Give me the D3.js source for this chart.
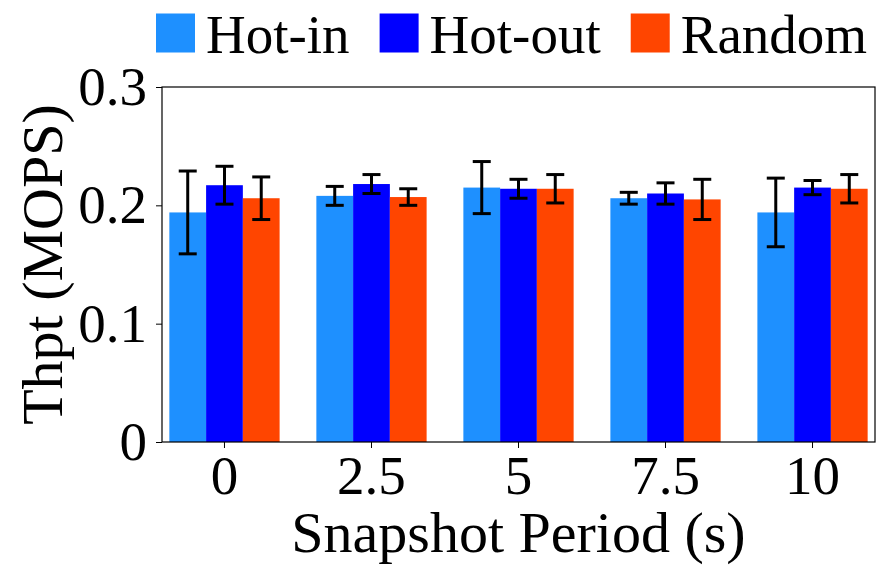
<!DOCTYPE html>
<html>
<head>
<meta charset="utf-8">
<script src="https://cdn.jsdelivr.net/npm/d3@7"></script>
<style>
  body { margin: 0; background: #fff; }
  text { font-family: "Liberation Serif", "Times New Roman", serif; fill: #000; }
</style>
</head>
<body>
<svg id="chart"></svg>
<script>
// data
const periods = ["0", "2.5", "5", "7.5", "10"];
const seriesNames = ["Hot-in", "Hot-out", "Random"];
const hotIn = [0.194, 0.208, 0.215, 0.206, 0.194];
const hotInErr = [0.035, 0.008, 0.022, 0.005, 0.029];
const hotOut = [0.217, 0.218, 0.214, 0.210, 0.215];
const hotOutErr = [0.016, 0.008, 0.008, 0.009, 0.006];
const random = [0.206, 0.207, 0.214, 0.205, 0.214];
const randomErr = [0.018, 0.007, 0.012, 0.017, 0.012];
const yTicks = [0, 0.1, 0.2, 0.3];

const colors = ["#1E90FF", "#0000FF", "#FF4500"];

const width = 877;
const height = 566;
const margin = { top: 87, right: 2, bottom: 124, left: 162 };
const fontTick = 55;
const fontTitle = 58;

const svg = d3.select("#chart").attr("width", width).attr("height", height);

const xScale = d3
  .scaleBand()
  .domain(periods)
  .range([margin.left, width - margin.right])
  .paddingInner(0.25)
  .paddingOuter(0.05);

const subScale = d3
  .scaleBand()
  .domain(seriesNames)
  .range([0, xScale.bandwidth()]);

const yScale = d3
  .scaleLinear()
  .domain([0, 0.3])
  .range([height - margin.bottom, margin.top]);

// build rows for drawing
const values = [hotIn, hotOut, random];
const errs = [hotInErr, hotOutErr, randomErr];
const rows = [];
periods.forEach((p, i) => {
  seriesNames.forEach((s, j) => {
    rows.push({ period: p, series: s, value: values[j][i], err: errs[j][i], color: colors[j] });
  });
});

// bars
svg
  .append("g")
  .selectAll("rect")
  .data(rows)
  .enter()
  .append("rect")
  .attr("x", (d) => xScale(d.period) + subScale(d.series))
  .attr("y", (d) => yScale(d.value))
  .attr("width", subScale.bandwidth())
  .attr("height", (d) => yScale(0) - yScale(d.value))
  .attr("fill", (d) => d.color);

// error bars
const capHalf = 9;
const errG = svg
  .append("g")
  .selectAll("g")
  .data(rows)
  .enter()
  .append("g")
  .attr("stroke", "#000")
  .attr("stroke-width", 3);
const cx = (d) => xScale(d.period) + subScale(d.series) + subScale.bandwidth() / 2;
errG
  .append("line")
  .attr("x1", cx)
  .attr("x2", cx)
  .attr("y1", (d) => yScale(d.value + d.err))
  .attr("y2", (d) => yScale(d.value - d.err));
errG
  .append("line")
  .attr("x1", (d) => cx(d) - capHalf)
  .attr("x2", (d) => cx(d) + capHalf)
  .attr("y1", (d) => yScale(d.value + d.err))
  .attr("y2", (d) => yScale(d.value + d.err));
errG
  .append("line")
  .attr("x1", (d) => cx(d) - capHalf)
  .attr("x2", (d) => cx(d) + capHalf)
  .attr("y1", (d) => yScale(d.value - d.err))
  .attr("y2", (d) => yScale(d.value - d.err));

// axes
const yAxis = d3
  .axisLeft(yScale)
  .tickValues(yTicks)
  .tickFormat((d) => (d === 0 ? "0" : d3.format(".1f")(d)))
  .tickSize(6)
  .tickPadding(9);
const yG = svg
  .append("g")
  .attr("transform", "translate(" + margin.left + ",0)")
  .call(yAxis);

const xAxis = d3.axisBottom(xScale).tickSize(6).tickPadding(7);
const xG = svg
  .append("g")
  .attr("transform", "translate(0," + (height - margin.bottom) + ")")
  .call(xAxis);

[yG, xG].forEach((g) => {
  g.select(".domain").remove();
  g.selectAll(".tick line").attr("stroke", "#000").attr("stroke-width", 1);
  g.selectAll(".tick text").style("font-size", fontTick + "px").attr("fill", "#000");
});

// frame
svg
  .append("rect")
  .attr("x", margin.left)
  .attr("y", margin.top)
  .attr("width", width - margin.right - margin.left)
  .attr("height", height - margin.bottom - margin.top)
  .attr("fill", "none")
  .attr("stroke", "#000")
  .attr("stroke-width", 1.2);

// axis titles
svg
  .append("text")
  .attr("transform", "translate(62," + (margin.top + (height - margin.bottom - margin.top) / 2) + ") rotate(-90)")
  .attr("text-anchor", "middle")
  .style("font-size", fontTitle + "px")
  .text("Thpt (MOPS)");

svg
  .append("text")
  .attr("x", (margin.left + width - margin.right) / 2)
  .attr("y", 552)
  .attr("text-anchor", "middle")
  .style("font-size", fontTitle + "px")
  .text("Snapshot Period (s)");

// legend
const legend = svg.append("g");
let lx = 156;
seriesNames.forEach((name, i) => {
  legend
    .append("rect")
    .attr("x", lx)
    .attr("y", 13.5)
    .attr("width", 39)
    .attr("height", 39)
    .attr("fill", colors[i]);
  const t = legend
    .append("text")
    .attr("x", lx + 50)
    .attr("y", 53)
    .style("font-size", fontTick + "px")
    .text(name);
  lx += 50 + t.node().getComputedTextLength() + 30;
});
</script>
</body>
</html>
